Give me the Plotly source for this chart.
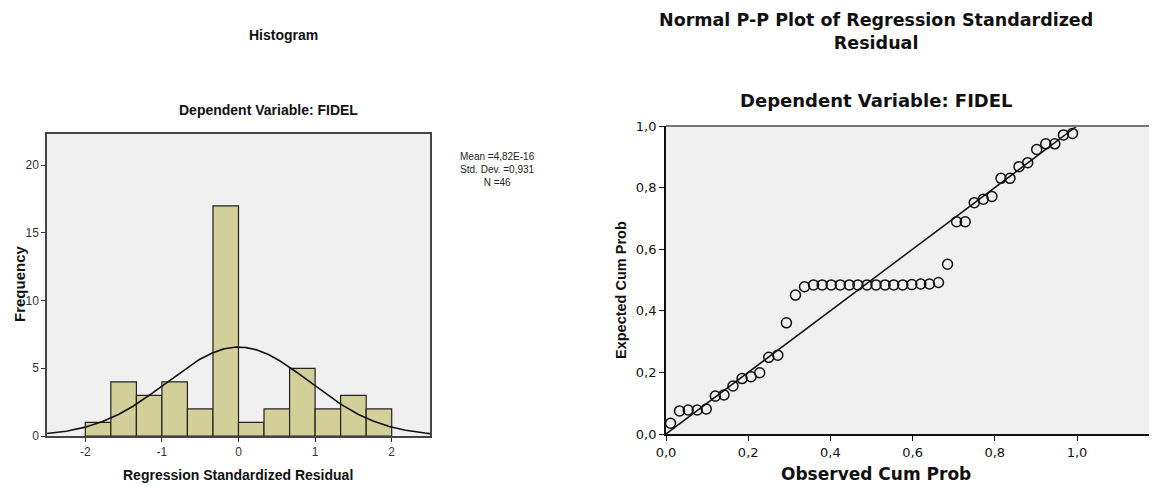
import numpy as np
import plotly.graph_objects as go

W, H = 1157, 486
OFF = 8  # page body margin of the rendered html

# ---------------- Histogram data ----------------
bin_edges = [-2.0, -1.667, -1.333, -1.0, -0.667, -0.333, 0.0, 0.333, 0.667, 1.0, 1.333, 1.667, 2.0]
freq = [1, 4, 3, 4, 2, 17, 1, 2, 5, 2, 3, 2]
stat_mean = 4.82e-16
stat_sd = 0.931
stat_n = 46
hist_xticks = [-2, -1, 0, 1, 2]
hist_yticks = [0, 5, 10, 15, 20]

# ---------------- P-P plot data ----------------
observed_cum = [0.011, 0.033, 0.054, 0.076, 0.098, 0.120, 0.141, 0.163, 0.185, 0.207,
                0.228, 0.250, 0.272, 0.293, 0.315, 0.337, 0.359, 0.380, 0.402, 0.424,
                0.446, 0.467, 0.489, 0.511, 0.533, 0.554, 0.576, 0.598, 0.620, 0.641,
                0.663, 0.685, 0.707, 0.728, 0.750, 0.772, 0.793, 0.815, 0.837, 0.859,
                0.880, 0.902, 0.924, 0.946, 0.967, 0.989]
expected_cum = [0.035, 0.075, 0.078, 0.078, 0.081, 0.123, 0.127, 0.156, 0.180, 0.186,
                0.199, 0.249, 0.256, 0.361, 0.451, 0.478, 0.484, 0.484, 0.484, 0.484,
                0.484, 0.484, 0.484, 0.484, 0.484, 0.484, 0.484, 0.485, 0.487, 0.487,
                0.492, 0.551, 0.689, 0.689, 0.751, 0.762, 0.771, 0.830, 0.830, 0.868,
                0.881, 0.924, 0.942, 0.942, 0.971, 0.976]
pp_ticks = [0.0, 0.2, 0.4, 0.6, 0.8, 1.0]
pp_ticklabels = ["0,0", "0,2", "0,4", "0,6", "0,8", "1,0"]


def px(x):
    return (x - OFF) / W


def py(y):
    return 1 - (y - OFF) / H


FONT = "Liberation Sans, Arial, sans-serif"
WIDE = "DejaVu Sans, Verdana, sans-serif"

fig = go.Figure()

centers = [(bin_edges[i] + bin_edges[i + 1]) / 2 for i in range(len(freq))]
widths = [bin_edges[i + 1] - bin_edges[i] for i in range(len(freq))]
fig.add_trace(go.Bar(
    x=centers, y=freq, width=widths,
    marker=dict(color="#d3cf98", line=dict(color="#222222", width=1.2)),
    xaxis="x", yaxis="y", showlegend=False, hoverinfo="skip"))

# normal curve from the stated mean / sd / N
bw = widths[0]
xs = np.linspace(-2.5, 2.5, 301)
ys = stat_n * bw * np.exp(-0.5 * ((xs - stat_mean) / stat_sd) ** 2) / (stat_sd * np.sqrt(2 * np.pi))
fig.add_trace(go.Scatter(x=xs, y=ys, mode="lines", line=dict(color="#111111", width=1.6),
                         xaxis="x", yaxis="y", showlegend=False, hoverinfo="skip"))

fig.add_trace(go.Scatter(x=[0, 1], y=[0, 1], mode="lines", line=dict(color="#111111", width=1.5),
                         xaxis="x2", yaxis="y2", showlegend=False, hoverinfo="skip"))
fig.add_trace(go.Scatter(x=observed_cum, y=expected_cum, mode="markers",
                         marker=dict(symbol="circle-open", size=10, color="#111111",
                                     line=dict(width=1.5, color="#111111")),
                         xaxis="x2", yaxis="y2", showlegend=False, hoverinfo="skip"))

fig.update_layout(
    template="none",
    width=W, height=H,
    margin=dict(l=0, r=0, t=0, b=0, autoexpand=False),
    paper_bgcolor="white",
    plot_bgcolor="#f0f0f0",
    font=dict(family=FONT, color="#222222"),
    xaxis=dict(domain=[px(47), px(430)], range=[-2.5, 2.5], anchor="y", automargin=False,
               tickmode="array", tickvals=hist_xticks, ticktext=[str(v) for v in hist_xticks],
               ticks="outside", ticklen=4, tickcolor="#333", tickfont=dict(size=12, color="#333"),
               showgrid=False, zeroline=False, showline=True, linecolor="#444", linewidth=1.5,
               mirror=True),
    yaxis=dict(domain=[py(436), py(134)], range=[0, 22.3], anchor="x", automargin=False,
               tickmode="array", tickvals=hist_yticks, ticktext=[str(v) for v in hist_yticks],
               ticks="outside", ticklen=4, tickcolor="#333", tickfont=dict(size=12, color="#333"),
               showgrid=False, zeroline=False, showline=True, linecolor="#444", linewidth=1.5,
               mirror=True),
    xaxis2=dict(domain=[px(666), px(1157)], range=[0, (1157 - 666) / 411], anchor="y2",
                automargin=False,
                tickmode="array", tickvals=pp_ticks, ticktext=pp_ticklabels,
                ticks="outside", ticklen=5, tickcolor="#111", tickfont=dict(size=13, color="#111", family=WIDE),
                showgrid=False, zeroline=False, showline=True, linecolor="#111", linewidth=1.8),
    yaxis2=dict(domain=[py(434), py(126)], range=[0, 1.0], anchor="x2", automargin=False,
                tickmode="array", tickvals=pp_ticks, ticktext=pp_ticklabels,
                ticks="outside", ticklen=5, tickcolor="#111", tickfont=dict(size=13, color="#111", family=WIDE),
                showgrid=False, zeroline=False, showline=True, linecolor="#111", linewidth=1.8),
)

fig.add_shape(type="line", xref="x2 domain", yref="y2 domain", x0=0, x1=1, y0=1, y1=1,
              line=dict(color="#777777", width=2))

ann = []


def add_text(text, x, y, size, bold=True, family=FONT, angle=0, color="#111"):
    t = f"<b>{text}</b>" if bold else text
    ann.append(dict(text=t, x=px(x), y=py(y), xref="paper", yref="paper", showarrow=False,
                    xanchor="center", yanchor="middle", textangle=angle,
                    font=dict(size=size, family=family, color=color)))


add_text("Histogram", 283, 35, 14)
add_text("Dependent Variable: FIDEL", 268, 110, 14)
add_text("Frequency", 19, 284, 15, angle=-90)
add_text("Regression Standardized Residual", 238, 475, 14)

ann.append(dict(text=f"Mean =4,82E-16<br>Std. Dev. =0,931<br>N ={stat_n}",
                x=px(497), y=py(170), xref="paper", yref="paper", showarrow=False,
                xanchor="center", yanchor="middle", align="center",
                font=dict(size=10, family=FONT, color="#222")))

# two-line P-P title, anchored to the top of the figure
ann.append(dict(text="<b>Normal P-P Plot of Regression Standardized<br>Residual</b>",
                x=px(876), y=1.0, xref="paper", yref="paper", showarrow=False,
                xanchor="center", yanchor="top", align="center",
                font=dict(size=17.5, family=WIDE, color="#111")))
add_text("Dependent Variable: FIDEL", 876, 100, 18, family=WIDE)
add_text("Expected Cum Prob", 621, 290, 14.5, angle=-90)
add_text("Observed Cum Prob", 876, 474, 17, family=WIDE)

fig.update_layout(annotations=ann)

fig.write_html("out.html")
